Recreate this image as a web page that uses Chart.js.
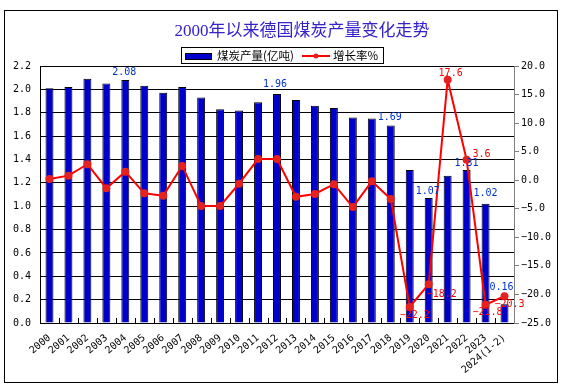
<!DOCTYPE html>
<html>
<head>
<meta charset="utf-8">
<title>2000年以来德国煤炭产量变化走势</title>
<script src="https://cdn.jsdelivr.net/npm/chart.js@4.4.1/dist/chart.umd.min.js"></script>
<style>
  html, body { margin: 0; padding: 0; background: #fff; }
</style>
</head>
<body>
<canvas id="coalChart" width="563" height="388"></canvas>
<script>
// categories
const years = ["2000", "2001", "2002", "2003", "2004", "2005", "2006", "2007", "2008", "2009",
    "2010", "2011", "2012", "2013", "2014", "2015", "2016", "2017", "2018", "2019",
    "2020", "2021", "2022", "2023", "2024(1-2)"];

// coal output (亿吨)
const output = [2.01, 2.02, 2.09, 2.05, 2.08, 2.03, 1.97, 2.02, 1.93, 1.83,
    1.82, 1.89, 1.96, 1.91, 1.86, 1.84, 1.76, 1.75, 1.69, 1.31,
    1.07, 1.26, 1.31, 1.02, 0.16];

// growth rate (%)
const growth = [0.2, 0.8, 2.8, -1.4, 1.5, -2.3, -2.7, 2.5, -4.5, -4.5,
    -0.6, 3.7, 3.7, -2.9, -2.4, -0.7, -4.7, -0.2, -3.3, -22.2,
    -18.2, 17.6, 3.6, -21.8, -20.3];

// points that carry a value label
const outputLabelIdx = [4, 12, 18, 20, 22, 23, 24];
const growthLabelIdx = [19, 20, 21, 22, 23, 24];

// label nudges (dx, dy) relative to the mark
const outputLabelShift = [[-1, -8], [-2, -10], [-1, -8], [-1, -7], [0, -7], [0, -10], [-3, -17]];
const growthLabelShift = [[5, 8], [13, 10], [3, -6], [15, -5], [2, 8], [5, 8]];

const monoFont = '"DejaVu Sans Mono", monospace';
const fmt1 = v => v.toFixed(1).replace('-', '\u2212');

// title, legend, frame, value labels and the small x ticks
const decor = {
    id: 'decor',
    afterDatasetsDraw(chart) {
        const ctx = chart.ctx;
        ctx.save();
        ctx.font = '10px ' + monoFont;
        ctx.textAlign = 'center';
        ctx.textBaseline = 'middle';

        const bars = chart.getDatasetMeta(1).data;
        ctx.fillStyle = '#0033cc';
        outputLabelIdx.forEach((i, k) => {
            const el = bars[i];
            ctx.fillText(output[i].toFixed(2), el.x + outputLabelShift[k][0], el.y + outputLabelShift[k][1]);
        });

        const pts = chart.getDatasetMeta(0).data;
        ctx.fillStyle = '#ff0000';
        growthLabelIdx.forEach((i, k) => {
            const el = pts[i];
            ctx.fillText(fmt1(growth[i]), el.x + growthLabelShift[k][0], el.y + growthLabelShift[k][1]);
        });
        ctx.restore();
    },
    afterDraw(chart) {
        const ctx = chart.ctx;
        const area = chart.chartArea;
        const xs = chart.scales.x;
        ctx.save();

        // small inward ticks between categories
        ctx.strokeStyle = '#000';
        ctx.lineWidth = 1;
        ctx.beginPath();
        for (let i = 1; i < years.length; i++) {
            const x = Math.round((xs.getPixelForTick(i - 1) + xs.getPixelForTick(i)) / 2) + 0.5;
            ctx.moveTo(x, area.bottom);
            ctx.lineTo(x, area.bottom - 5);
        }
        ctx.stroke();

        // outer frame
        ctx.strokeRect(4.5, 10.5, 553, 372);

        // title
        ctx.fillStyle = '#3322cc';
        ctx.font = '17px "Liberation Serif", "Noto Sans CJK SC", serif';
        ctx.textAlign = 'center';
        ctx.textBaseline = 'middle';
        ctx.fillText('2000年以来德国煤炭产量变化走势', 302, 32);

        // legend
        ctx.strokeRect(181.5, 47.5, 202, 16);
        ctx.fillStyle = '#0000cc';
        ctx.fillRect(185, 53, 27, 7);
        ctx.strokeRect(185.5, 53.5, 26, 6);
        ctx.fillStyle = '#000';
        ctx.font = '11.5px "Noto Sans CJK SC", sans-serif';
        ctx.textAlign = 'left';
        ctx.fillText('煤炭产量(亿吨)', 217, 56);
        ctx.fillText('增长率%', 333, 56);
        ctx.strokeStyle = '#ff0000';
        ctx.lineWidth = 2;
        ctx.beginPath();
        ctx.moveTo(302, 56);
        ctx.lineTo(330, 56);
        ctx.stroke();
        ctx.fillStyle = '#e52222';
        ctx.beginPath();
        ctx.arc(316, 56, 2.5, 0, Math.PI * 2);
        ctx.fill();

        ctx.restore();
    }
};

new Chart(document.getElementById('coalChart'), {
    data: {
        labels: years,
        datasets: [
            {
                type: 'line',
                label: '增长率%',
                data: growth,
                yAxisID: 'y1',
                order: 0,
                borderColor: '#ff0000',
                borderWidth: 2,
                pointRadius: 3,
                pointBackgroundColor: '#e52222',
                pointBorderColor: '#e52222',
                tension: 0
            },
            {
                type: 'bar',
                label: '煤炭产量(亿吨)',
                data: output,
                yAxisID: 'y',
                order: 1,
                backgroundColor: '#0000cc',
                borderColor: '#000',
                borderWidth: 1,
                barPercentage: 0.42,
                categoryPercentage: 1
            }
        ]
    },
    options: {
        responsive: false,
        animation: false,
        layout: { padding: { top: 66, left: 5, right: 8, bottom: 5 } },
        plugins: {
            legend: { display: false },
            title: { display: false },
            tooltip: { enabled: false }
        },
        scales: {
            x: {
                grid: { display: false },
                border: { display: true, color: '#000' },
                ticks: {
                    color: '#000',
                    font: { family: monoFont, size: 10 },
                    autoSkip: false,
                    minRotation: 40,
                    maxRotation: 40,
                    padding: 1
                },
                afterFit: s => { s.height = 60; }
            },
            y: {
                position: 'left',
                min: 0,
                max: 2.2,
                ticks: {
                    stepSize: 0.2,
                    color: '#000',
                    font: { family: monoFont, size: 10 },
                    padding: 9,
                    callback: v => fmt1(v)
                },
                grid: { color: '#000', drawTicks: false },
                border: { color: '#000' },
                afterFit: s => { s.width = 35; }
            },
            y1: {
                position: 'right',
                min: -25,
                max: 20,
                ticks: {
                    stepSize: 5,
                    color: '#000',
                    font: { family: monoFont, size: 10 },
                    padding: 2,
                    callback: v => fmt1(v)
                },
                grid: { drawOnChartArea: false, color: '#808080', tickLength: 5 },
                border: { color: '#808080' },
                afterFit: s => { s.width = 41; }
            }
        }
    },
    plugins: [decor]
});
</script>
</body>
</html>
